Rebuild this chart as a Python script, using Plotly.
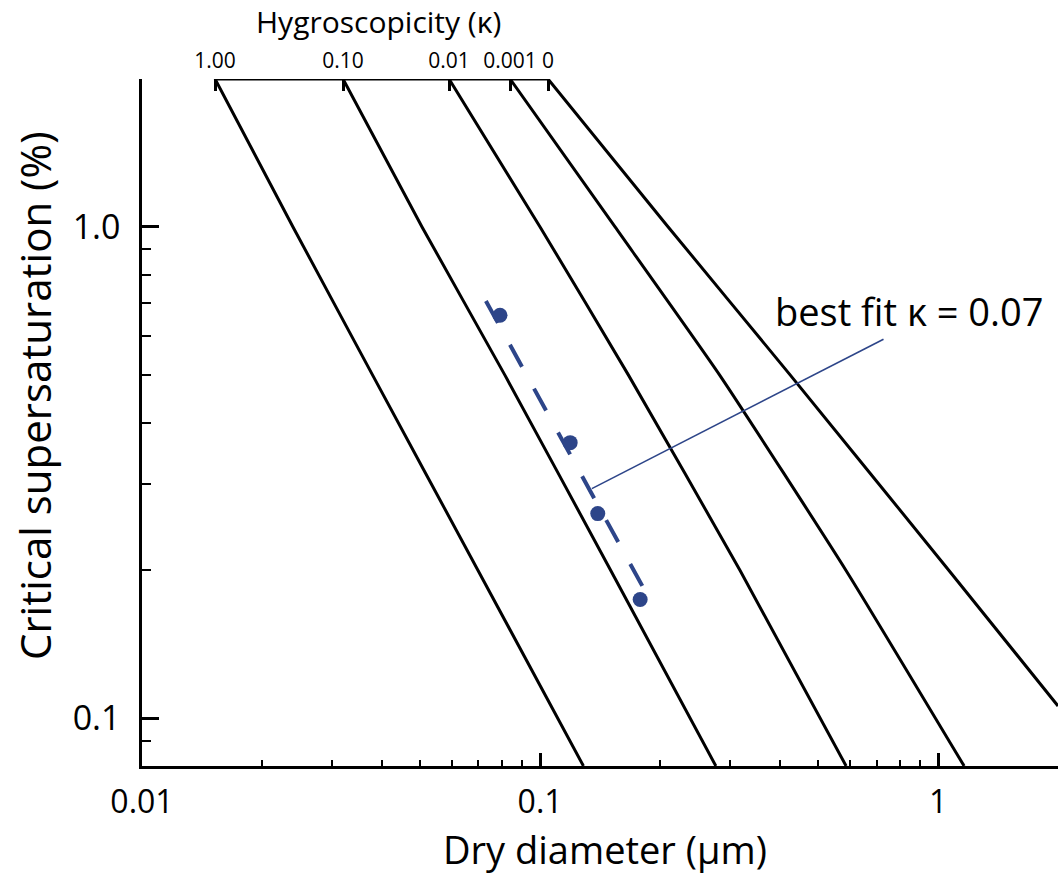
import numpy as np
import plotly.graph_objects as go

# ---------------- data ----------------
# critical supersaturation levels (%) at which the kappa-lines were read
S_levels = [2.0, 1.0, 0.5, 0.2, 0.08]
kappa_labels = ["1.00", "0.10", "0.01", "0.001", "0"]
# dry diameters (um) of each kappa line at the S levels above
D_k1 = [0.01526, 0.02395, 0.03793, 0.06985, 0.1285]
D_k01 = [0.03199, 0.05052, 0.08152, 0.1505, 0.2764]
D_k001 = [0.05906, 0.1000, 0.1666, 0.3180, 0.5872]
D_k0001 = [0.08407, 0.1543, 0.2823, 0.5869, 1.162]
# kappa = 0 (Kelvin) line leaves the frame on the right
D_k0 = [0.1047, 0.2098, 0.4247, 1.0644, 2.0]
S_k0 = [2.0, 1.0, 0.5, 0.2, 0.106]

# measured critical supersaturations
meas_D = [0.0793, 0.119, 0.1396, 0.1784]
meas_S = [0.661, 0.364, 0.261, 0.1746]
# best-fit kappa = 0.07 segment
fit_D = [0.0731, 0.1825]
fit_S = [0.707, 0.1832]
# leader line from label to fit line
leader_D = [0.7289, 0.1349]
leader_S = [0.591, 0.2934]

x_ticks = [0.01, 0.1, 1]
x_ticktext = ["0.01", "0.1", "1"]
y_ticks = [0.1, 1.0]
y_ticktext = ["0.1", "1.0"]
x_minor = [0.02, 0.03, 0.04, 0.05, 0.06, 0.07, 0.08, 0.09,
           0.2, 0.3, 0.4, 0.5, 0.6, 0.7, 0.8, 0.9, 2.0]
y_minor = [0.08, 0.09, 0.2, 0.3, 0.4, 0.5, 0.6, 0.7, 0.8, 0.9, 2.0]

x_range = [0.01, 2.0]
y_range = [0.08, 2.0]

# ---------------- styling ----------------
FONT = "Open Sans"
BLUE = "#2d4589"
BLACK = "#000000"
W, H = 1058, 874
ML, MR, MT, MB = 142, 0, 79, 108

fig = go.Figure()

kappa_D = [D_k1, D_k01, D_k001, D_k0001]
for D in kappa_D:
    fig.add_trace(go.Scatter(x=D, y=S_levels, mode="lines",
                             line=dict(color=BLACK, width=3, shape="spline", smoothing=0.5),
                             showlegend=False, hoverinfo="skip"))
fig.add_trace(go.Scatter(x=D_k0, y=S_k0, mode="lines",
                         line=dict(color=BLACK, width=3, shape="spline", smoothing=0.5),
                         showlegend=False, hoverinfo="skip"))

# top kappa scale line joining the tops of the kappa lines
top_D = [D[0] for D in kappa_D] + [D_k0[0]]
fig.add_trace(go.Scatter(x=[top_D[0], top_D[-1]], y=[S_levels[0], S_levels[0]],
                         mode="lines", line=dict(color=BLACK, width=3),
                         cliponaxis=False, showlegend=False, hoverinfo="skip"))

# best fit dashed line
fig.add_trace(go.Scatter(x=fit_D, y=fit_S, mode="lines",
                         line=dict(color=BLUE, width=4, dash="25px,25px"),
                         showlegend=False, hoverinfo="skip"))
# leader line
fig.add_trace(go.Scatter(x=leader_D, y=leader_S, mode="lines",
                         line=dict(color=BLUE, width=1.6),
                         showlegend=False, hoverinfo="skip"))
# measurements
fig.add_trace(go.Scatter(x=meas_D, y=meas_S, mode="markers",
                         marker=dict(color=BLUE, size=15, line=dict(width=0)),
                         showlegend=False, hoverinfo="skip"))

# dummy trace for the top axis
fig.add_trace(go.Scatter(x=top_D, y=[S_levels[0]] * len(top_D), xaxis="x2",
                         mode="markers", marker=dict(opacity=0),
                         showlegend=False, hoverinfo="skip"))

lr = lambda r: [np.log10(r[0]), np.log10(r[1])]

fig.update_layout(
    width=W, height=H,
    margin=dict(l=ML, r=MR, t=MT, b=MB, pad=0),
    paper_bgcolor="white", plot_bgcolor="white",
    font=dict(family=FONT, color=BLACK),
    xaxis=dict(type="log", range=lr(x_range), showgrid=False, zeroline=False,
               showline=True, linecolor=BLACK, linewidth=2.5,
               ticks="inside", ticklen=13, tickwidth=2.5, tickcolor=BLACK,
               tickmode="array", tickvals=x_ticks, ticktext=x_ticktext,
               tickfont=dict(size=32, family=FONT, color=BLACK),
               ticklabelstandoff=6,
               minor=dict(ticks="inside", ticklen=6, tickwidth=2, tickcolor=BLACK,
                          tickmode="array", tickvals=x_minor, showgrid=False)),
    yaxis=dict(type="log", range=lr(y_range), showgrid=False, zeroline=False,
               showline=True, linecolor=BLACK, linewidth=2.5,
               ticks="inside", ticklen=17, tickwidth=2.5, tickcolor=BLACK,
               tickmode="array", tickvals=y_ticks, ticktext=y_ticktext,
               tickfont=dict(size=34, family=FONT, color=BLACK),
               ticklabelstandoff=12,
               minor=dict(ticks="inside", ticklen=9, tickwidth=2, tickcolor=BLACK,
                          tickmode="array", tickvals=y_minor, showgrid=False)),
    xaxis2=dict(type="log", range=lr(x_range), overlaying="x", side="top", anchor="y",
                showgrid=False, zeroline=False, showline=False,
                ticks="inside", ticklen=12, tickwidth=3, tickcolor=BLACK,
                tickmode="array", tickvals=top_D, ticktext=kappa_labels,
                tickfont=dict(size=21, family=FONT, color=BLACK),
                ticklabelstandoff=6),
    annotations=[
        dict(text="Hygroscopicity (κ)", xref="paper", yref="paper",
             x=(378 - ML) / (W - ML - MR), y=(H - MB - 22) / (H - MT - MB),
             xanchor="center", yanchor="middle", showarrow=False,
             font=dict(size=30, family=FONT, color=BLACK)),
        dict(text="Dry diameter (μm)", xref="paper", yref="paper",
             x=(605 - ML) / (W - ML - MR), y=(H - MB - 849) / (H - MT - MB),
             xanchor="center", yanchor="middle", showarrow=False,
             font=dict(size=38, family=FONT, color=BLACK)),
        dict(text="Critical supersaturation (%)", xref="paper", yref="paper",
             x=(34 - ML) / (W - ML - MR), y=(H - MB - 396) / (H - MT - MB),
             xanchor="center", yanchor="middle", showarrow=False, textangle=-90,
             font=dict(size=42, family=FONT, color=BLACK)),
        dict(text="best fit κ = 0.07", xref="paper", yref="paper",
             x=(773 - ML) / (W - ML - MR), y=(H - MB - 311) / (H - MT - MB),
             xanchor="left", yanchor="middle", showarrow=False,
             font=dict(size=38, family=FONT, color=BLACK)),
    ],
)

fig.write_html("out.html")
